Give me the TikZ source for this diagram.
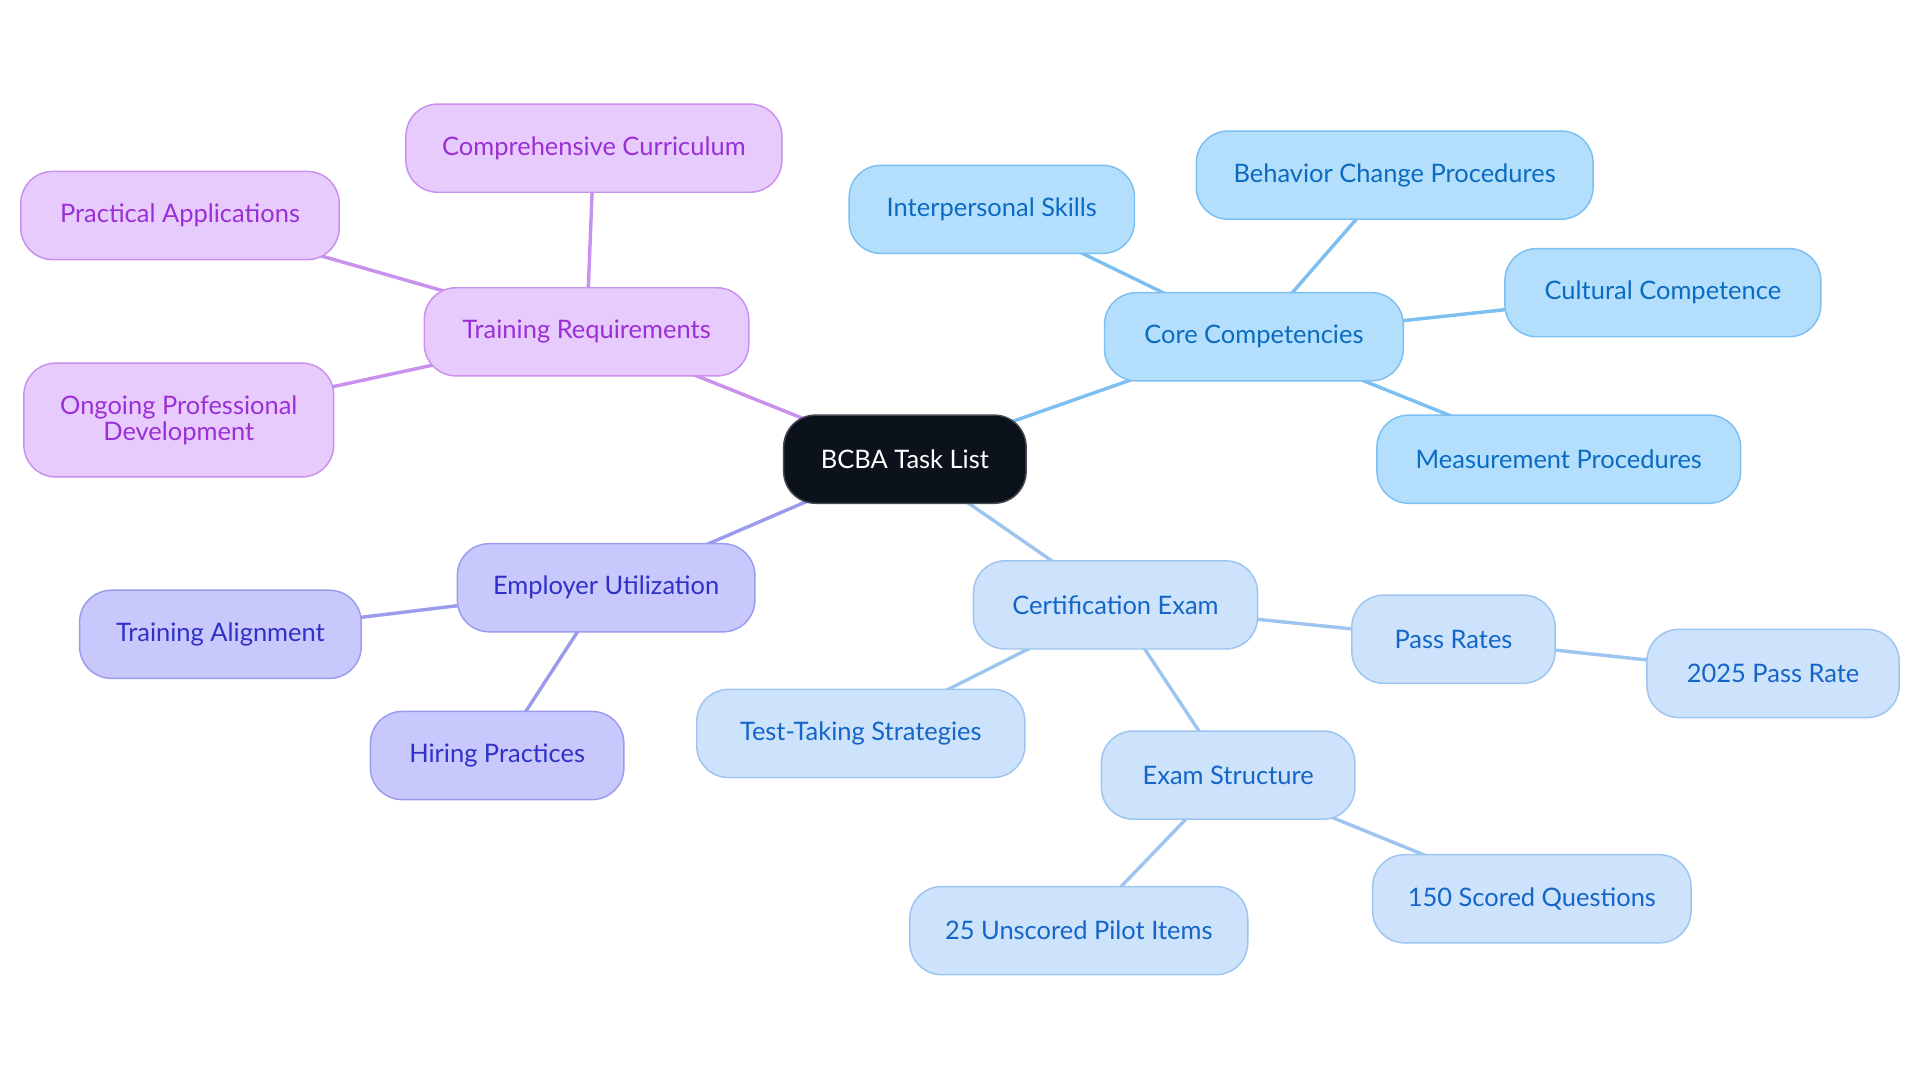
\documentclass[tikz,border=0pt]{standalone}
\usepackage{fontspec}
\setmainfont{Lato}
\usetikzlibrary{backgrounds}
\definecolor{rootfill}{HTML}{0B121B}
\definecolor{rootdraw}{HTML}{454A52}
\definecolor{trfill}{HTML}{E8CBFD}
\definecolor{trdraw}{HTML}{C990EE}
\definecolor{trtext}{HTML}{9A2FD6}
\definecolor{ccfill}{HTML}{B3DFFD}
\definecolor{ccdraw}{HTML}{7DBFF0}
\definecolor{cctext}{HTML}{0B6BC0}
\definecolor{cefill}{HTML}{CCE3FB}
\definecolor{cedraw}{HTML}{9DC5F0}
\definecolor{cetext}{HTML}{1565C8}
\definecolor{eufill}{HTML}{C8C8FC}
\definecolor{eudraw}{HTML}{9B9BEE}
\definecolor{eutext}{HTML}{3030C8}
\tikzset{
  mm/.style={rectangle, rounded corners=26pt, minimum height=72pt, inner sep=0pt, line width=1.2pt, font=\fontsize{20.8}{21}\selectfont, align=center},
  rootbox/.style={mm, fill=rootfill, draw=rootdraw, text=white},
  trbox/.style={mm, fill=trfill, draw=trdraw, text=trtext},
  ccbox/.style={mm, fill=ccfill, draw=ccdraw, text=cctext},
  cebox/.style={mm, fill=cefill, draw=cedraw, text=cetext},
  eubox/.style={mm, fill=eufill, draw=eudraw, text=eutext},
  tredge/.style={draw=trdraw, line width=2.8pt},
  ccedge/.style={draw=ccdraw, line width=2.8pt},
  ceedge/.style={draw=cedraw, line width=2.8pt},
  euedge/.style={draw=eudraw, line width=2.8pt}
}
\begin{document}
\begin{tikzpicture}[x=1pt,y=-1pt]
\useasboundingbox (0,0) rectangle (1568,884);
\node[rootbox, minimum width=198pt] (root) at (739,375) {BCBA Task List};
% Training
\node[trbox, minimum width=265pt] (tr) at (479,271) {Training Requirements};
\node[trbox, minimum width=307pt] (cc2) at (485,121) {Comprehensive Curriculum};
\node[trbox, minimum width=260pt] (pa) at (147,176) {Practical Applications};
\node[trbox, minimum width=253pt, minimum height=93pt] (op) at (146,343) {Ongoing Professional\\Development};
% Core
\node[ccbox, minimum width=244pt] (core) at (1024,275) {Core Competencies};
\node[ccbox, minimum width=233pt] (is) at (810,171) {Interpersonal Skills};
\node[ccbox, minimum width=324pt] (bc) at (1139,143) {Behavior Change Procedures};
\node[ccbox, minimum width=258pt] (cu) at (1358,239) {Cultural Competence};
\node[ccbox, minimum width=297pt] (mp) at (1273,375) {Measurement Procedures};
% Certification
\node[cebox, minimum width=232pt] (ce) at (911,494) {Certification Exam};
\node[cebox, minimum width=166pt] (pr) at (1187,522) {Pass Rates};
\node[cebox, minimum width=206pt] (p25) at (1448,550) {2025 Pass Rate};
\node[cebox, minimum width=268pt] (tt) at (703,599) {Test-Taking Strategies};
\node[cebox, minimum width=207pt] (es) at (1003,633) {Exam Structure};
\node[cebox, minimum width=276pt] (up) at (881,760) {25 Unscored Pilot Items};
\node[cebox, minimum width=260pt] (sq) at (1251,734) {150 Scored Questions};
% Employer
\node[eubox, minimum width=243pt] (eu) at (495,480) {Employer Utilization};
\node[eubox, minimum width=230pt] (ta) at (180,518) {Training Alignment};
\node[eubox, minimum width=207pt] (hp) at (406,617) {Hiring Practices};
\begin{scope}[on background layer]
\draw[tredge] (root.center) -- (tr.center);
\draw[tredge] (tr.center) -- (cc2.center);
\draw[tredge] (tr.center) -- (pa.center);
\draw[tredge] (tr.center) -- (op.center);
\draw[ccedge] (root.center) -- (core.center);
\draw[ccedge] (core.center) -- (is.center);
\draw[ccedge] (core.center) -- (bc.center);
\draw[ccedge] (core.center) -- (cu.center);
\draw[ccedge] (core.center) -- (mp.center);
\draw[ceedge] (root.center) -- (ce.center);
\draw[ceedge] (ce.center) -- (pr.center);
\draw[ceedge] (pr.center) -- (p25.center);
\draw[ceedge] (ce.center) -- (tt.center);
\draw[ceedge] (ce.center) -- (es.center);
\draw[ceedge] (es.center) -- (up.center);
\draw[ceedge] (es.center) -- (sq.center);
\draw[euedge] (root.center) -- (eu.center);
\draw[euedge] (eu.center) -- (ta.center);
\draw[euedge] (eu.center) -- (hp.center);
\end{scope}
\end{tikzpicture}
\end{document}
